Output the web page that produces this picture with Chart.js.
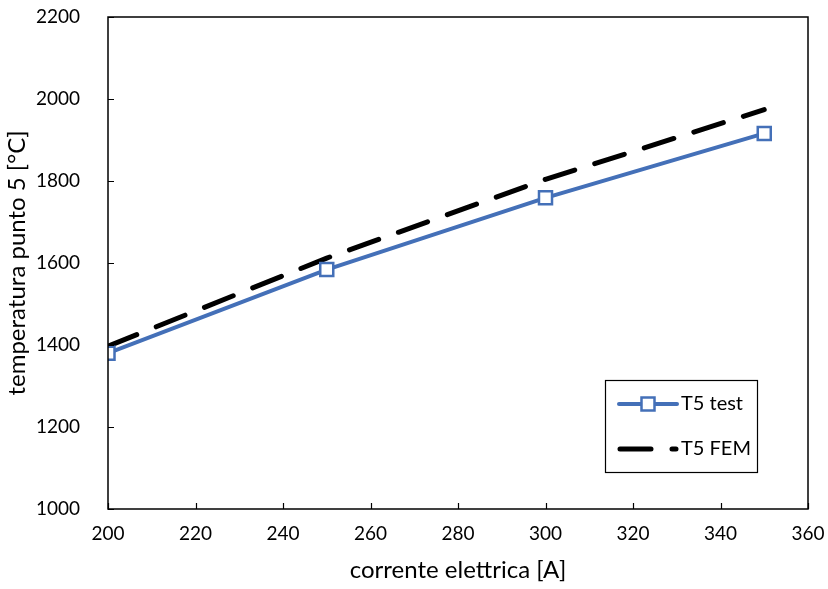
<!DOCTYPE html>
<html>
<head>
<meta charset="utf-8">
<script src="https://cdn.jsdelivr.net/npm/chart.js@4"></script>
<style>
  html, body { margin: 0; padding: 0; background: #fff; }
  #wrap { width: 828px; height: 589px; }
</style>
</head>
<body>
<div id="wrap"><canvas id="c" width="828" height="589"></canvas></div>
<script>
// corrente elettrica [A]
const currents = [200, 250, 300, 350];
// temperatura punto 5 [°C]
const t5Test = [1380, 1584, 1759, 1916];
const t5Fem = [1397, 1612, 1804, 1974];

const xTicks = [200, 220, 240, 260, 280, 300, 320, 340, 360];
const yTicks = [1000, 1200, 1400, 1600, 1800, 2000, 2200];

const FONT = 'Lato, "Open Sans", sans-serif';
const BLUE = '#4470b8';
const FEM_DASH = [31, 21];

// frame around the plot area plus inward-pointing tick marks
const framePlugin = {
  id: 'frame',
  afterDraw(chart) {
    const { ctx, chartArea: a, scales } = chart;
    ctx.save();
    ctx.strokeStyle = '#000';
    ctx.lineWidth = 1.5;
    ctx.strokeRect(a.left, a.top, a.right - a.left, a.bottom - a.top);
    ctx.lineWidth = 1.2;
    ctx.beginPath();
    xTicks.forEach(v => {
      const px = Math.round(scales.x.getPixelForValue(v)) + 0.5;
      ctx.moveTo(px, a.bottom);
      ctx.lineTo(px, a.bottom - 6);
    });
    yTicks.forEach(v => {
      const py = Math.round(scales.y.getPixelForValue(v)) + 0.5;
      ctx.moveTo(a.left, py);
      ctx.lineTo(a.left + 6, py);
    });
    ctx.stroke();
    ctx.restore();
  }
};

// boxed legend drawn inside the plot area
const legendPlugin = {
  id: 'boxLegend',
  afterDraw(chart) {
    const { ctx } = chart;
    const ds = chart.data.datasets;
    ctx.save();
    ctx.strokeStyle = '#000';
    ctx.lineWidth = 1.2;
    ctx.strokeRect(605.5, 380.5, 152, 92);
    ctx.font = '20px ' + FONT;
    ctx.fillStyle = '#000';
    ctx.textBaseline = 'middle';

    // T5 test
    ctx.strokeStyle = ds[0].borderColor;
    ctx.lineWidth = ds[0].borderWidth;
    ctx.lineCap = 'round';
    ctx.beginPath();
    ctx.moveTo(619, 404);
    ctx.lineTo(677, 404);
    ctx.stroke();
    ctx.fillStyle = '#fff';
    ctx.lineWidth = ds[0].pointBorderWidth;
    ctx.beginPath();
    ctx.rect(641.5, 397.5, 13, 13);
    ctx.fill();
    ctx.stroke();
    ctx.fillStyle = '#000';
    ctx.fillText(ds[0].label, 681, 404);

    // T5 FEM
    ctx.strokeStyle = ds[1].borderColor;
    ctx.lineWidth = ds[1].borderWidth;
    ctx.setLineDash(FEM_DASH);
    ctx.beginPath();
    ctx.moveTo(620, 449);
    ctx.lineTo(676, 449);
    ctx.stroke();
    ctx.setLineDash([]);
    ctx.fillText(ds[1].label, 681, 449);
    ctx.restore();
  }
};

new Chart(document.getElementById('c'), {
  type: 'line',
  data: {
    datasets: [
      {
        label: 'T5 test',
        data: currents.map((x, i) => ({ x, y: t5Test[i] })),
        borderColor: BLUE,
        borderWidth: 4,
        pointStyle: 'rect',
        pointRadius: 9.2,
        pointHoverRadius: 9.2,
        pointBackgroundColor: '#fff',
        pointBorderColor: BLUE,
        pointBorderWidth: 2.5,
        tension: 0,
        order: 1
      },
      {
        label: 'T5 FEM',
        data: currents.map((x, i) => ({ x, y: t5Fem[i] })),
        borderColor: '#000',
        borderWidth: 5,
        borderDash: FEM_DASH,
        borderCapStyle: 'round',
        pointRadius: 0,
        pointHoverRadius: 0,
        tension: 0,
        order: 2
      }
    ]
  },
  options: {
    responsive: false,
    animation: false,
    events: [],
    layout: { padding: { top: 17, right: 20, left: 0, bottom: 0 } },
    plugins: { legend: { display: false }, tooltip: { enabled: false } },
    scales: {
      x: {
        type: 'linear',
        min: 200,
        max: 360,
        afterBuildTicks: s => { s.ticks = xTicks.map(v => ({ value: v })); },
        afterFit: s => { s.height = 80; s.paddingLeft = 0; s.paddingRight = 0; },
        grid: { display: false },
        border: { display: false },
        ticks: {
          color: '#000',
          font: { family: FONT, size: 19 },
          padding: 5,
          maxRotation: 0,
          callback: v => String(v)
        },
        title: {
          display: true,
          text: 'corrente elettrica [A]',
          color: '#000',
          font: { family: FONT, size: 24 },
          padding: { top: 13 }
        }
      },
      y: {
        type: 'linear',
        min: 1000,
        max: 2200,
        afterBuildTicks: s => { s.ticks = yTicks.map(v => ({ value: v })); },
        afterFit: s => { s.width = 108; s.paddingTop = 0; s.paddingBottom = 0; },
        grid: { display: false },
        border: { display: false },
        ticks: {
          color: '#000',
          font: { family: FONT, size: 19 },
          padding: 20,
          callback: v => String(v)
        },
        title: {
          display: true,
          text: 'temperatura punto 5 [°C]',
          color: '#000',
          font: { family: FONT, size: 24 },
          padding: { top: 3, bottom: 2 }
        }
      }
    }
  },
  plugins: [framePlugin, legendPlugin]
});
</script>
</body>
</html>
